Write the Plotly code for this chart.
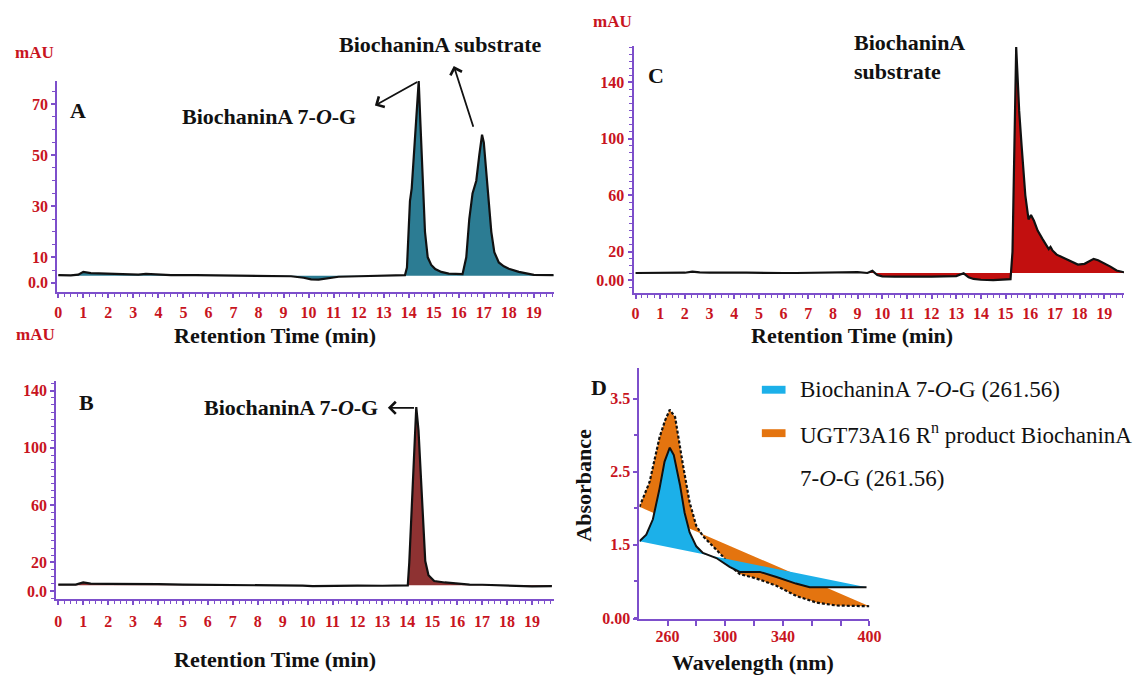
import plotly.graph_objects as go

W, H = 1136, 677

# ---------------- data ----------------
# Panel A: reaction mixture chromatogram (mAU vs min)
A_time = [0.0, 0.5, 0.8, 1.0, 1.3, 1.8, 2.5, 3.2, 3.5, 4.5, 5.5, 6.5, 7.5, 8.5, 9.3, 9.8,
          10.1, 10.4, 10.7, 11.2, 12.0, 12.8, 13.5, 13.85, 13.93, 14.0, 14.05, 14.12, 14.22,
          14.32, 14.4, 14.47, 14.55, 14.65, 14.76, 14.9, 15.06, 15.3, 15.6, 16.0, 16.15,
          16.3, 16.42, 16.55, 16.7, 16.82, 16.93, 17.0, 17.1, 17.2, 17.3, 17.42, 17.6, 17.8,
          18.0, 18.4, 18.75, 19.0, 19.8]
A_mau = [3.0, 2.9, 3.2, 4.3, 3.8, 3.6, 3.4, 3.2, 3.5, 3.0, 3.0, 2.9, 2.9, 2.8, 2.6, 2.0,
         1.4, 1.3, 1.8, 2.4, 2.6, 2.7, 2.7, 3.0, 6.0, 20.0, 32.0, 37.0, 52.0,
         70.0, 79.0, 62.0, 40.0, 20.0, 10.0, 7.0, 5.4, 4.3, 3.6, 3.3, 3.4,
         10.0, 25.0, 35.0, 40.0, 50.0, 58.0, 55.0, 42.0, 30.0, 20.0, 12.0, 8.0, 6.5,
         5.5, 4.3, 3.5, 3.1, 3.0]
A_level = 2.8

# Panel B: enzyme product chromatogram
B_time = [0.0, 0.7, 1.0, 1.3, 2.0, 3.0, 4.0, 5.0, 6.0, 7.0, 8.0, 9.0, 9.8, 10.2, 11.0,
          12.0, 13.0, 13.9, 14.02, 14.08, 14.18, 14.28, 14.36, 14.45, 14.55, 14.65, 14.72,
          14.85, 15.08, 15.5, 16.0, 16.5, 17.0, 17.5, 18.0, 18.5, 19.0, 19.8]
B_mau = [4.5, 4.5, 6.0, 5.2, 5.0, 5.2, 4.9, 4.5, 4.4, 4.5, 4.5, 4.4, 3.8, 3.4, 3.8,
         3.8, 3.7, 3.7, 4.0, 20.0, 60.0, 105.0, 128.5, 112.0, 75.0, 40.0, 21.0,
         11.0, 7.0, 6.0, 5.2, 4.5, 4.4, 4.0, 3.8, 3.5, 3.3, 3.4]
B_level = 4.0

# Panel C: substrate chromatogram
C_time = [0.0, 0.5, 1.0, 1.5, 2.0, 2.3, 2.6, 3.0, 3.5, 4.0, 4.5, 5.0, 5.5, 6.0, 6.5, 7.0,
          7.5, 8.0, 8.5, 9.0, 9.4, 9.6, 9.8, 10.0, 10.5, 11.0, 11.5, 12.0, 12.5, 13.0, 13.3,
          13.5, 13.7, 14.0, 14.5, 15.0, 15.2, 15.28, 15.33, 15.38, 15.43, 15.47, 15.55,
          15.65, 15.8, 15.93, 16.03, 16.15, 16.3, 16.5, 16.65, 16.75, 16.82, 16.9, 17.07,
          17.25, 17.43, 17.7, 17.93, 18.2, 18.4, 18.57, 18.75, 19.0, 19.25, 19.5, 19.8]
C_mau = [5.0, 5.0, 5.0, 5.3, 5.2, 6.0, 5.4, 5.2, 5.5, 5.3, 5.2, 5.0, 5.1, 5.0, 5.0, 5.1,
         5.0, 5.2, 5.3, 5.6, 5.0, 6.5, 3.5, 2.6, 2.4, 2.3, 2.3, 2.4, 2.6, 2.8, 4.8,
         2.0, 0.8, 0.2, 0.0, 0.2, 0.6, 20.0, 80.0, 140.0, 165.0, 150.0, 120.0,
         95.0, 60.0, 43.0, 46.0, 42.0, 35.0, 29.0, 25.0, 22.0, 23.5, 21.0, 18.0,
         16.5, 15.0, 13.0, 11.0, 11.5, 13.5, 15.0, 14.0, 12.0, 9.5, 6.8, 5.5]
C_level = 5.0

# Panel D: UV spectra
D_std_nm = [240.5, 245.2, 249.8, 254.4, 257.9, 261.5, 264.3, 268.6, 271.8, 275.3, 279.9,
            284.5, 293.8, 303, 310, 324, 335.5, 349, 358.6, 398]
D_std_abs = [1.55, 1.64, 1.85, 2.27, 2.64, 2.83, 2.73, 2.32, 1.94, 1.67, 1.48,
             1.39, 1.32, 1.2, 1.13, 1.13, 1.06, 0.97, 0.92, 0.92]
D_prod_nm = [240.5, 247.5, 254.4, 258.2, 261.5, 265.2, 270.6, 275.3, 279.9, 284.5, 291.5,
             298.4, 303, 310, 321.6, 335.5, 349.4, 363.3, 377.2, 400]
D_prod_abs = [2.02, 2.36, 2.97, 3.2, 3.35, 3.25, 2.6, 2.08, 1.76, 1.62, 1.48,
              1.34, 1.22, 1.1, 1.04, 0.94, 0.8, 0.71, 0.67, 0.66]

chrom_ticks = list(range(0, 20))
A_yticks, A_ytext = [0, 10, 30, 50, 70], ["0.0", "10", "30", "50", "70"]
B_yticks, B_ytext = [0, 20, 60, 100, 140], ["0.0", "20", "60", "100", "140"]
C_yticks, C_ytext = [0, 20, 60, 100, 140], ["0.00", "20", "60", "100", "140"]
D_xticks = [260, 300, 340, 400]
D_yticks, D_ytext = [0.49, 1.5, 2.5, 3.5], ["0.00", "1.5", "2.5", "3.5"]

# ---------------- styling ----------------
PURPLE = "#7d4fcb"
RED = "#c8141e"
SERIF = "Liberation Serif"
TEAL = "#2c7c93"
MAROON = "#8e3232"
CRIMSON = "#c20f0f"
SKY = "#1cb0e9"
ORANGE = "#e4740f"


def px(x):
    return x / W


def py(y):
    return 1 - y / H


def axis_common(**kw):
    d = dict(showline=True, linecolor=PURPLE, linewidth=2, showgrid=False, zeroline=False,
             ticks="outside", tickcolor=PURPLE, ticklen=4, tickwidth=1.5,
             tickfont=dict(family=SERIF, size=16, color=RED, weight="bold"),
             mirror=False)
    d.update(kw)
    return d


fig = go.Figure()


def chromatogram(t, v, level, color, xa, ya):
    fig.add_trace(go.Scatter(x=t, y=[level] * len(t), mode="lines", line=dict(width=0),
                             hoverinfo="skip", showlegend=False, xaxis=xa, yaxis=ya))
    fig.add_trace(go.Scatter(x=t, y=v, mode="lines", fill="tonexty", fillcolor=color,
                             line=dict(color="#111111", width=2.2), showlegend=False,
                             xaxis=xa, yaxis=ya))


chromatogram(A_time, A_mau, A_level, TEAL, "x", "y")
chromatogram(B_time, B_mau, B_level, MAROON, "x2", "y2")
chromatogram(C_time, C_mau, C_level, CRIMSON, "x3", "y3")

# UV spectra (closed fills)
fig.add_trace(go.Scatter(x=D_prod_nm, y=D_prod_abs, mode="lines", fill="toself",
                         fillcolor=ORANGE, line=dict(color="#111111", width=2.2, dash="3px,2px"),
                         showlegend=False, xaxis="x4", yaxis="y4"))
fig.add_trace(go.Scatter(x=D_std_nm, y=D_std_abs, mode="lines", fill="toself",
                         fillcolor=SKY, line=dict(color="#111111", width=2),
                         showlegend=False, xaxis="x4", yaxis="y4"))

xminor = dict(ticks="outside", ticklen=3, dtick=0.25, tickcolor=PURPLE, tickwidth=1)
yminor = dict(ticks="outside", ticklen=3, dtick=5, tickcolor=PURPLE, tickwidth=1)

fig.update_layout(
    width=W, height=H, margin=dict(l=0, r=0, t=0, b=0),
    paper_bgcolor="white", plot_bgcolor="white", showlegend=False,
    xaxis=axis_common(domain=[px(55), px(558)], range=[-0.04, 19.79], tickvals=chrom_ticks,
                      anchor="y", minor=xminor, ticklabelstandoff=1),
    yaxis=axis_common(domain=[py(296), py(82)], range=[-3.6, 79.07], tickvals=A_yticks,
                      ticktext=A_ytext, anchor="x", minor=yminor),
    xaxis2=axis_common(domain=[px(54), px(558)], range=[-0.08, 19.87], tickvals=chrom_ticks,
                       anchor="y2", minor=xminor, ticklabelstandoff=3),
    yaxis2=axis_common(domain=[py(607), py(386)], range=[-5.5, 146.8], tickvals=B_yticks,
                       ticktext=B_ytext, anchor="x2", minor=yminor),
    xaxis3=axis_common(domain=[px(639), px(1136)], range=[-0.08, 19.8], tickvals=chrom_ticks,
                       anchor="y3", minor=xminor, ticklabelstandoff=1),
    yaxis3=axis_common(domain=[py(297), py(47)], range=[-9.2, 165.5], tickvals=C_yticks,
                       ticktext=C_ytext, anchor="x3", minor=yminor),
    xaxis4=axis_common(domain=[px(645), px(878)], range=[240.5, 400], tickvals=D_xticks,
                       anchor="y4", ticklen=5, ticklabelstandoff=-3,
                       minor=dict(ticks="outside", ticklen=5, dtick=20, tick0=240,
                                  tickcolor=PURPLE, tickwidth=1.5)),
    yaxis4=axis_common(domain=[py(627), py(373)], range=[0.49, 3.92], tickvals=D_yticks,
                       ticktext=D_ytext, anchor="x4",
                       minor=dict(ticks="outside", ticklen=3, dtick=0.5, tickcolor=PURPLE)),
)

ann = []


def text(x, y, s, size=22, color="#111111", bold=True, xanchor="center", angle=0):
    ann.append(dict(x=px(x), y=py(y), xref="paper", yref="paper",
                    text=f"<b>{s}</b>" if bold else s, showarrow=False,
                    xanchor=xanchor, yanchor="middle", textangle=angle,
                    font=dict(family=SERIF, size=size, color=color)))


def arrow(xa, ya, head, tail):
    ann.append(dict(x=head[0], y=head[1], ax=tail[0], ay=tail[1], xref=xa, yref=ya,
                    axref=xa, ayref=ya, text="", showarrow=True, arrowhead=4,
                    arrowsize=1.3, arrowwidth=1.8, arrowcolor="#111111"))


# unit labels
text(32, 53, "mAU", size=17, color=RED)
text(33, 339, "mAU", size=17, color=RED)
text(618, 22, "mAU", size=17, color=RED)

# panel letters
text(76, 112, "A", size=22)
text(85, 408, "B", size=22)
text(662, 77, "C", size=22)
text(604, 393, "D", size=22)

# axis titles
text(276, 340, "Retention Time (min)", size=22)
text(276, 668, "Retention Time (min)", size=22)
text(860, 340, "Retention Time (min)", size=22)
text(760, 671, "Wavelength (nm)", size=22)
text(588, 492, "Absorbance", size=22, angle=-90)

# peak labels
text(270, 118, "BiochaninA 7-<i>O</i>-G", size=22)
text(443, 45, "BiochaninA substrate", size=22)
text(292, 413, "BiochaninA 7-<i>O</i>-G", size=22)
text(860, 43, "BiochaninA", size=22, xanchor="left")
text(860, 72, "substrate", size=22, xanchor="left")

arrow("x", "y", (12.65, 69.4), (14.4, 79.0))
arrow("x", "y", (15.8, 84.9), (16.6, 60.5))
arrow("x2", "y2", (13.22, 128.0), (14.33, 128.0))
arrow("x3", "y3", (14.0, 167.0), (15.36, 167.0))

# spectrum legend
text(806, 395, "BiochaninA 7-<i>O</i>-G (261.56)", size=23, bold=False, xanchor="left")
text(806, 439, "UGT73A16 R<sup>n</sup> product BiochaninA", size=23, bold=False, xanchor="left")
text(806, 485, "7-<i>O</i>-G (261.56)", size=23, bold=False, xanchor="left")

fig.update_layout(annotations=ann, shapes=[
    dict(type="rect", xref="paper", yref="paper", x0=px(769), x1=px(793), y0=py(399),
         y1=py(391), fillcolor=SKY, line=dict(width=0)),
    dict(type="rect", xref="paper", yref="paper", x0=px(769), x1=px(793), y0=py(443),
         y1=py(435), fillcolor=ORANGE, line=dict(width=0)),
])

fig.write_html("out.html")
